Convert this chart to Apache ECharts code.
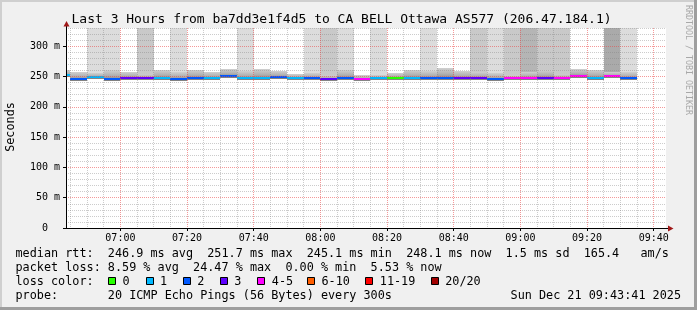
<!DOCTYPE html>
<html><head><meta charset="utf-8">
<script src="https://cdn.jsdelivr.net/npm/echarts@6/dist/echarts.min.js"></script>
<style>html,body{margin:0;padding:0;background:#f0f0f0}#c{width:697px;height:310px}</style>
</head><body><div id="c"></div><script>
// ---- data ----
const rangeStart = '06:43:41';
const rangeEnd = '09:43:41';
const stepMinutes = 5;
const yMax = 330;
// end time of each 5-minute interval
const times = ['06:45','06:50','06:55','07:00','07:05','07:10','07:15','07:20','07:25','07:30',
  '07:35','07:40','07:45','07:50','07:55','08:00','08:05','08:10','08:15','08:20',
  '08:25','08:30','08:35','08:40','08:45','08:50','08:55','09:00','09:05','09:10',
  '09:15','09:20','09:25','09:30','09:35'];
// median rtt (ms)
const medianRtt = [252.8,245.4,248.7,245.5,247.0,248.0,247.8,245.8,247.8,247.8,
  250.0,247.9,247.0,248.8,248.0,247.0,245.1,247.0,245.2,247.0,
  247.0,247.3,247.0,247.0,247.0,247.0,245.3,247.0,247.0,248.0,
  248.0,251.6,247.8,250.0,248.1];
// top of the smoke (highest ping inside the scale, ms)
const smokeHigh = [260.7,256.9,255.0,260.7,258.0,254.0,260.7,258.0,260.7,258.0,
  261.8,259.0,262.5,258.5,254.0,256.5,253.0,260.0,252.0,252.0,
  256.0,260.7,259.6,263.4,259.6,258.0,256.5,252.4,258.0,260.7,
  254.0,261.8,260.7,258.0,258.0];
// pings above the scale (smoke reaching the top)
const outlierPings = [0,0,1,1,0,2,0,1,0,0,
  0,1,0,0,0,1,2,1,0,1,
  0,0,1,0,0,2,1,2,3,2,
  2,0,0,4,1];
// lost pings out of 20
const lossPings = [1,2,1,2,3,3,1,2,2,1,
  2,1,1,2,1,2,3,2,4,1,
  0,1,2,2,3,3,2,4,5,3,
  4,5,1,4,2];
const lossLabels = ['0','1','2','3','4-5','6-10','11-19','20/20'];
const lossUpper = [0,1,2,3,5,10,19,20];
const xTickLabels = ['07:00','07:20','07:40','08:00','08:20','08:40','09:00','09:20','09:40'];
const yTickValues = [0,50,100,150,200,250,300];
const titleText = 'Last 3 Hours from ba7dd3e1f4d5 to CA BELL Ottawa AS577 (206.47.184.1)';
const legendLines = [
  'median rtt:  246.9 ms avg  251.7 ms max  245.1 ms min  248.1 ms now  1.5 ms sd  165.4   am/s',
  'packet loss: 8.59 % avg  24.47 % max  0.00 % min  5.53 % now',
  'loss color:',
  'probe:       20 ICMP Echo Pings (56 Bytes) every 300s'
];
const dateText = 'Sun Dec 21 09:43:41 2025';

// ---- styles ----
const lossColors = ['#26ff00','#00b8ff','#0059ff','#5e00ff','#ff00ff','#ff5e00','#ff0000','#a10000'];
const outlierShade = [null,'#dcdcdc','#c9c9c9','#b5b5b5','#aaaaaa'];
const FONT = '"DejaVu Sans Mono", monospace';
const G = {left: 66, top: 28, width: 600, height: 200};
const minorGrid = 'rgba(128,128,128,0.4)';
const majorGrid = 'rgba(235,70,70,0.55)';

function toMin(s){ const p = s.split(':').map(Number); return p[0]*60 + p[1] + (p[2]||0)/60; }
function fmt(v){ const h = Math.floor(v/60), m = Math.round(v - h*60); return String(h).padStart(2,'0')+':'+String(m).padStart(2,'0'); }
function lossColor(n){ for (let i=0;i<lossUpper.length;i++) if (n <= lossUpper[i]) return lossColors[i]; return lossColors[lossColors.length-1]; }

const xMin = toMin(rangeStart), xMax = toMin(rangeEnd);
const majorX = xTickLabels.map(toMin);
const minorX = [];
for (let v = Math.ceil(xMin/stepMinutes)*stepMinutes; v <= xMax; v += stepMinutes) if (majorX.indexOf(v) < 0) minorX.push(v);

const data = times.map((t,i) => { const e = toMin(t); return [e - stepMinutes, e, medianRtt[i], smokeHigh[i], outlierPings[i], lossPings[i]]; });

const smokeGrad = {type:'linear', x:0, y:0, x2:0, y2:1, colorStops:[
  {offset:0, color:'#d0d0d0'}, {offset:0.5, color:'#b0b0b0'}, {offset:1, color:'#7c7c7c'}]};

function renderItem(params, api){
  const s = api.value(0), e = api.value(1), med = api.value(2), hi = api.value(3), out = api.value(4), loss = api.value(5);
  const cs = params.coordSys;
  const left = Math.max(cs.x, Math.round(api.coord([s, med])[0]));
  const right = Math.min(cs.x + cs.width, Math.round(api.coord([e, med])[0]));
  if (right <= left) return;
  const w = right - left;
  const yHi = Math.round(api.coord([e, hi])[1]);
  const yMed = api.coord([e, med])[1];
  const ch = [];
  if (out > 0) ch.push({type:'rect', shape:{x:left, y:cs.y, width:w, height:yHi - cs.y}, style:{fill: outlierShade[Math.min(out,4)]}});
  const lt = Math.round(yMed - 1);
  ch.push({type:'rect', shape:{x:left, y:yHi, width:w, height:lt + 3 - yHi}, style:{fill: smokeGrad}});
  ch.push({type:'rect', shape:{x:left, y:lt, width:w, height:2}, style:{fill: lossColor(loss)}});
  return {type:'group', children: ch};
}

const chart = echarts.init(document.getElementById('c'), null, {renderer:'canvas'});

const graphics = [];
// frame
graphics.push({type:'rect', shape:{x:0,y:0,width:697,height:2}, style:{fill:'#cfcfcf'}, z:10});
graphics.push({type:'rect', shape:{x:0,y:0,width:2,height:310}, style:{fill:'#cfcfcf'}, z:10});
graphics.push({type:'rect', shape:{x:0,y:307,width:697,height:3}, style:{fill:'#9e9e9e'}, z:11});
graphics.push({type:'rect', shape:{x:694,y:0,width:3,height:310}, style:{fill:'#9e9e9e'}, z:11});
// title
graphics.push({type:'text', x:71.5, y:19.5, style:{text:titleText, font:'13px '+FONT, fill:'#000', verticalAlign:'middle'}, z:10});
// y axis name
graphics.push({type:'text', x:10.5, y:127, rotation:Math.PI/2, style:{text:'Seconds', font:'11.8px '+FONT, fill:'#000', align:'center', verticalAlign:'middle'}, z:10});
// rrdtool credit
graphics.push({type:'text', x:688, y:60, rotation:-Math.PI/2, style:{text:'RRDTOOL / TOBI OETIKER', font:'8.3px '+FONT, fill:'#a8a8a8', align:'center', verticalAlign:'middle'}, z:10});
// axis extensions + arrows
const ax = G.left + 0.5, ay = G.top + G.height + 0.5;
graphics.push({type:'line', shape:{x1:ax, y1:G.top, x2:ax, y2:25}, style:{stroke:'#000', lineWidth:1}, z:10});
graphics.push({type:'line', shape:{x1:G.left+G.width, y1:ay, x2:669, y2:ay}, style:{stroke:'#000', lineWidth:1}, z:10});
graphics.push({type:'polygon', shape:{points:[[ax-3,26.5],[ax+3,26.5],[ax,21]]}, style:{fill:'#a01818'}, z:10});
graphics.push({type:'polygon', shape:{points:[[668,ay-3],[668,ay+3],[673.5,ay]]}, style:{fill:'#a01818'}, z:10});
// legend lines
const baseY = [253.8, 267.8, 281.8, 295.8];
legendLines.forEach((t,i) => graphics.push({type:'text', x:15.5, y:baseY[i], style:{text:t, font:'11.8px '+FONT, fill:'#000', verticalAlign:'middle'}, z:10}));
graphics.push({type:'text', x:681, y:baseY[3], style:{text:dateText, font:'11.8px '+FONT, fill:'#000', align:'right', verticalAlign:'middle'}, z:10});
// loss colour boxes
const boxX = [108, 145.5, 182.7, 219.7, 257.3, 307, 365.3, 430.7];
lossLabels.forEach((lab,i) => {
  const bx = Math.round(boxX[i]) + 0.5;
  graphics.push({type:'rect', shape:{x:bx, y:277.5, width:7, height:7}, style:{fill:lossColors[i], stroke:'#000', lineWidth:1}, z:10});
  graphics.push({type:'text', x:boxX[i]+14.5, y:baseY[2], style:{text:lab, font:'11.8px '+FONT, fill:'#000', verticalAlign:'middle'}, z:10});
});

chart.setOption({
  backgroundColor:'#f0f0f0',
  animation:false,
  grid:{left:G.left, top:G.top, width:G.width, height:G.height, show:true, backgroundColor:'#ffffff', borderWidth:0, containLabel:false},
  xAxis:[
    {type:'value', position:'bottom', min:xMin, max:xMax, z:5,
     axisLine:{show:true, lineStyle:{color:'#000', width:1}},
     axisTick:{show:true, length:3, customValues:majorX, lineStyle:{color:'#000'}},
     axisLabel:{show:true, customValues:majorX, formatter:v => fmt(v), margin:5, color:'#000', fontFamily:FONT, fontSize:10},
     splitLine:{show:true, lineStyle:{color:majorGrid, width:1, type:[1,1]}}},
    {type:'value', position:'bottom', min:xMin, max:xMax, z:4,
     axisLine:{show:false}, axisLabel:{show:false},
     axisTick:{show:false, customValues:minorX},
     splitLine:{show:true, lineStyle:{color:minorGrid, width:1, type:[1,1]}}}
  ],
  yAxis:[
    {type:'value', position:'left', min:0, max:yMax, interval:10, z:5,
     axisLine:{show:true, lineStyle:{color:'#000', width:1}},
     axisTick:{show:false}, axisLabel:{show:false},
     splitLine:{show:true, lineStyle:{color:[majorGrid, minorGrid, minorGrid, minorGrid, minorGrid], width:1, type:[1,1]}}},
    {type:'value', position:'left', min:0, max:yMax, z:5,
     axisLine:{show:false},
     axisTick:{show:true, length:3, customValues:yTickValues, lineStyle:{color:'#000'}},
     axisLabel:{show:true, customValues:yTickValues, formatter:v => v === 0 ? '0  ' : v + ' m', margin:6, color:'#000', fontFamily:FONT, fontSize:10},
     splitLine:{show:false}}
  ],
  series:[{type:'custom', xAxisIndex:0, yAxisIndex:0, z:1, clip:true, renderItem:renderItem,
    encode:{x:[0,1], y:[2,3]}, data:data}],
  graphic:graphics
});
</script></body></html>
